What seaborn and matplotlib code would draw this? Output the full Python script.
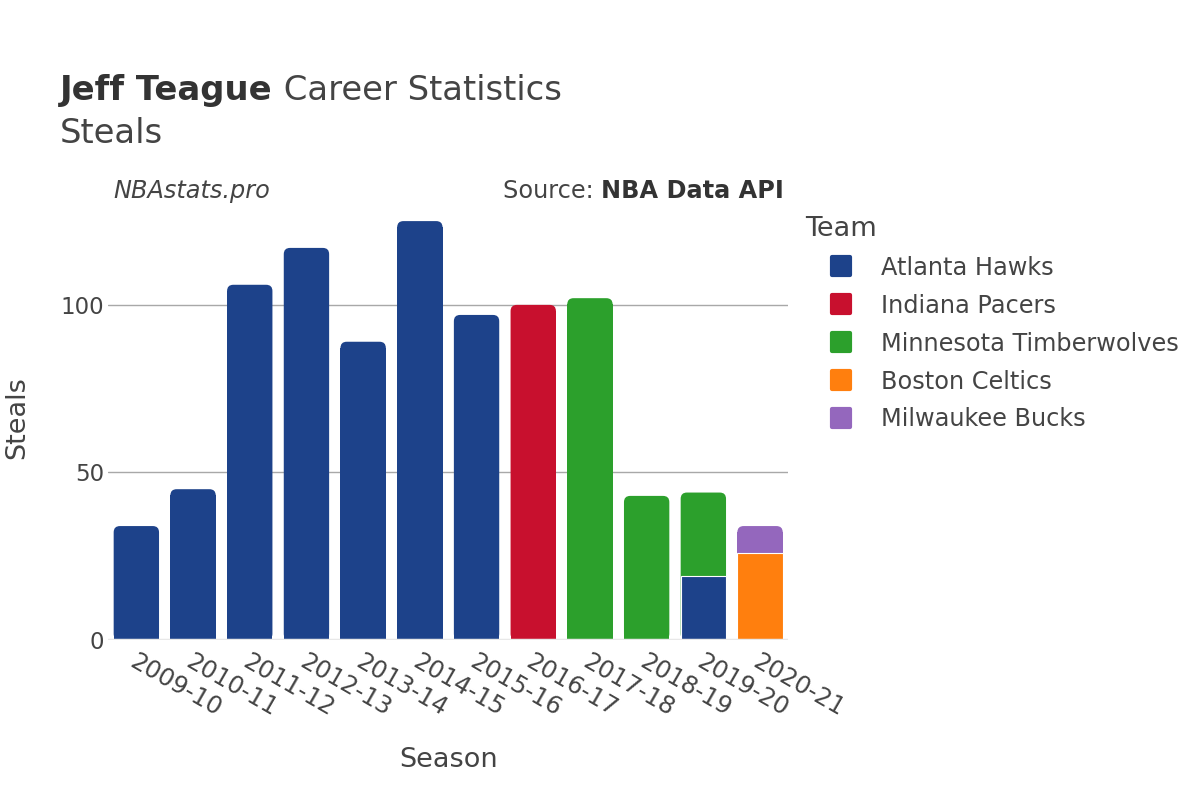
import numpy as np
import pandas as pd
import matplotlib
matplotlib.use("Agg")
import matplotlib.pyplot as plt
import matplotlib.transforms as mtransforms
from matplotlib.patches import FancyBboxPatch, Rectangle
from matplotlib.lines import Line2D
from matplotlib.markers import MarkerStyle
import seaborn as sns

sns.set_style("white")
plt.rcParams["font.family"] = ["DejaVu Sans"]

# data
seasons = ["2009-10", "2010-11", "2011-12", "2012-13", "2013-14", "2014-15",
           "2015-16", "2016-17", "2017-18", "2018-19", "2019-20", "2019-20",
           "2020-21", "2020-21"]
teams = ["Atlanta Hawks", "Atlanta Hawks", "Atlanta Hawks", "Atlanta Hawks",
         "Atlanta Hawks", "Atlanta Hawks", "Atlanta Hawks", "Indiana Pacers",
         "Minnesota Timberwolves", "Minnesota Timberwolves", "Atlanta Hawks",
         "Minnesota Timberwolves", "Boston Celtics", "Milwaukee Bucks"]
steals = [34, 45, 106, 117, 89, 125, 97, 100, 102, 43, 19, 25, 26, 8]

team_order = ["Atlanta Hawks", "Indiana Pacers", "Minnesota Timberwolves",
              "Boston Celtics", "Milwaukee Bucks"]
team_colors = ["#1d428a", "#c8102e", "#2ca02c", "#ff7f0e", "#9467bd"]
season_order = list(dict.fromkeys(seasons))

dt = pd.DataFrame({"Season": seasons, "Team": teams, "Steals": steals})
wide = dt.pivot_table(index="Season", columns="Team", values="Steals", aggfunc="sum")
wide = wide.reindex(index=season_order, columns=team_order)
cum = wide.fillna(0).cumsum(axis=1).where(wide.notna())

text_col = "#444444"
fig = plt.figure(figsize=(12, 8), dpi=100)
ax = fig.add_axes([0.09, 0.2, 0.567, 0.532])

# stacked bars: draw the cumulative tops, highest layer first
layers = {}
for team, col in reversed(list(zip(team_order, team_colors))):
    d = cum[team].dropna().reset_index()
    d.columns = ["Season", "Top"]
    n_before = len(ax.patches)
    sns.barplot(data=d, x="Season", y="Top", order=season_order, color=col,
                width=0.8, saturation=1, edgecolor="white", linewidth=0.8, ax=ax)
    layers[team] = ax.patches[n_before:]

# round the top corners of the highest segment of each bar
ppx = 680 / 12.0
ppy = 425 / 127.0
r = 0.11
tops = {}
for team in layers:
    for p in layers[team]:
        h = p.get_height()
        if np.isnan(h) or h <= 0:
            continue
        xc = round(p.get_x() + p.get_width() / 2)
        if xc not in tops or h > tops[xc].get_height():
            tops[xc] = p
for p in tops.values():
    x, w, h = p.get_x(), p.get_width(), p.get_height()
    fc = p.get_facecolor()
    p.set_visible(False)
    ax.add_patch(FancyBboxPatch((x, 0), w, h,
                                boxstyle="round,pad=0,rounding_size=%f" % r,
                                mutation_aspect=ppx / ppy, fc=fc, ec="none", zorder=0.9))
    ax.add_patch(Rectangle((x, 0), w, h - r * ppx / ppy, fc=fc, ec="none", zorder=0.9))

ax.set_xlim(-0.5, 11.5)
ax.set_ylim(0, 127)
ax.set_yticks([0, 50, 100])
ax.set_axisbelow(True)
ax.yaxis.grid(True, color="#a8a8a8", lw=1)
ax.axhline(0, color="#e8e8e8", lw=2.5, zorder=3)
for s in ax.spines.values():
    s.set_visible(False)

ax.tick_params(axis="both", length=0, labelcolor=text_col)
ax.tick_params(axis="y", pad=3, labelsize=16.5)
ax.tick_params(axis="x", pad=0, labelsize=17.5)
offset = mtransforms.ScaledTranslation(0.01, -0.10, fig.dpi_scale_trans)
for lab in ax.get_xticklabels():
    lab.set_rotation(-30)
    lab.set_ha("left")
    lab.set_va("top")
    lab.set_rotation_mode("anchor")
    lab.set_transform(lab.get_transform() + offset)

ax.set_xlabel("Season", fontsize=19.5, color=text_col)
ax.set_ylabel("Steals", fontsize=19.5, color=text_col)
ax.xaxis.set_label_coords(0.5, -0.282)
ax.xaxis.label.set_va("center")
ax.yaxis.set_label_coords(-0.134, 0.522)
ax.yaxis.label.set_va("center")

# titles
t1 = fig.text(0.05, 0.875, "Jeff Teague", fontsize=24.4, fontweight="bold",
              color="#333333", va="baseline")
fig.canvas.draw()
bb = t1.get_window_extent()
fig.text(bb.x1 / 1200, 0.875, " Career Statistics", fontsize=24.4,
         color=text_col, va="baseline")
fig.text(0.05, 0.821, "Steals", fontsize=24.4, color=text_col, va="baseline")
fig.text(113 / 1200, 1 - 198 / 800, "NBAstats.pro", fontsize=17.3, style="italic",
         color=text_col, va="baseline")
s2 = fig.text(784 / 1200, 1 - 198 / 800, "NBA Data API", fontsize=17.3,
              fontweight="bold", color="#333333", va="baseline", ha="right")
fig.canvas.draw()
bb2 = s2.get_window_extent()
fig.text(bb2.x0 / 1200, 1 - 198 / 800, "Source: ", fontsize=17.3, color=text_col,
         va="baseline", ha="right")

# legend
handles = [Line2D([], [], marker=MarkerStyle("s", joinstyle="round"),
                  linestyle="none", markersize=13,
                  markerfacecolor=c, markeredgecolor=c, markeredgewidth=3)
           for c in team_colors]
leg = ax.legend(handles, team_order, title="Team", loc="upper left",
                bbox_to_anchor=(800 / 1200, 1 - 211 / 800),
                bbox_transform=fig.transFigure, frameon=False, fontsize=17.3,
                title_fontsize=19.5, alignment="left", labelspacing=0.58,
                handlelength=3.0, handletextpad=0.17, borderaxespad=0,
                borderpad=0.2)
for t in leg.get_texts():
    t.set_color(text_col)
leg.get_title().set_color(text_col)

fig.savefig("out.png", dpi=100)
